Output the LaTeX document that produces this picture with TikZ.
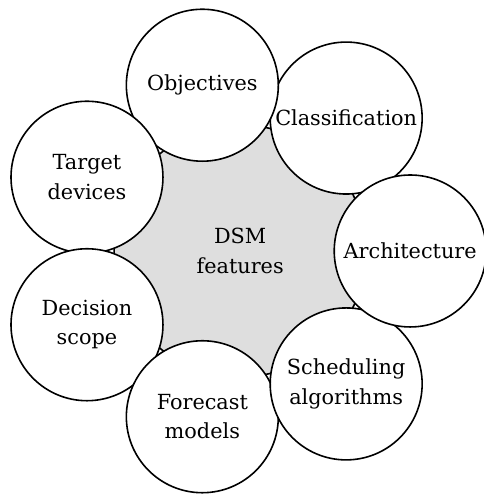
\documentclass[tikz,border=0pt]{standalone}
\usepackage{fontspec}
\setmainfont{DejaVu Serif}
\usetikzlibrary{calc}
\tikzset{
	featurecircle/.style={circle, draw=black, fill=white, line width=1.6pt, minimum size=5.34cm, inner sep=0pt, align=center, font=\fontsize{20.8}{29.5}\selectfont},
	corecircle/.style={circle, draw=black, fill=black!13, line width=1.6pt, minimum size=8.86cm, inner sep=0pt, align=center, font=\fontsize{20.8}{29.5}\selectfont}
}

\begin{document}
\begin{tikzpicture}
			%%%%% START %%%%%
			\useasboundingbox (-8.44, -8.54) rectangle (8.54, 8.82);
			
			\node[corecircle] (dsm) at (0, 0) {DSM\\features};
			
			\node[featurecircle] (classif) at (51.43:5.975) {Classification};
			\node[featurecircle] (obj) at (102.86:5.975) {Objectives};
			\node[featurecircle] (target) at (154.29:5.975) {Target\\devices};
			\node[featurecircle] (decision) at (205.71:5.975) {Decision\\scope};
			\node[featurecircle] (forecast) at (257.14:5.975) {Forecast\\models};
			\node[featurecircle] (sched) at (308.57:5.975) {Scheduling\\algorithms};
			\node[featurecircle] (arch) at (0:5.975) {Architecture};
			
			%%%%% END %%%%%
\end{tikzpicture}
\end{document}
